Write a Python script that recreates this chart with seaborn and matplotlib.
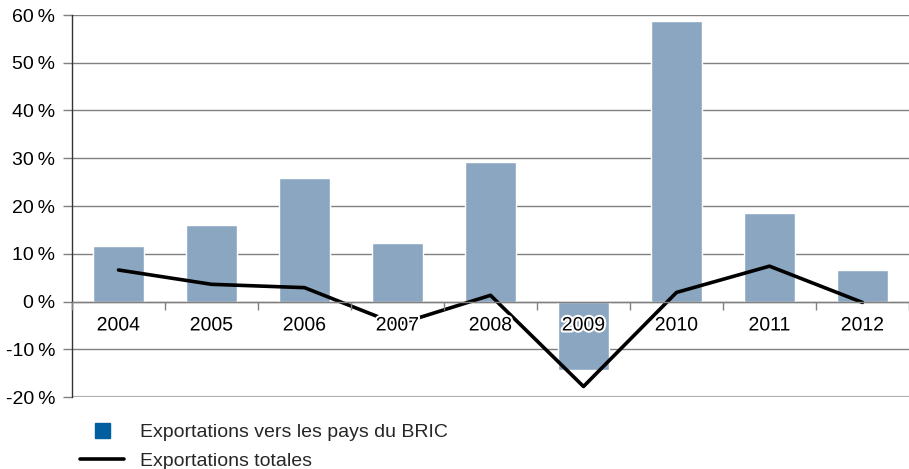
import numpy as np
import pandas as pd
import matplotlib
matplotlib.use('Agg')
import matplotlib.pyplot as plt
import matplotlib.patheffects as pe
from matplotlib.lines import Line2D
import seaborn as sns

years = ['2004', '2005', '2006', '2007', '2008', '2009', '2010', '2011', '2012']
bric = [11.6, 16.0, 25.9, 12.2, 29.2, -14.4, 58.8, 18.5, 6.6]
total = [6.6, 3.6, 2.9, -4.8, 1.3, -17.8, 1.9, 7.4, -0.2]
yticks = [-20, -10, 0, 10, 20, 30, 40, 50, 60]

bar_label = 'Exportations vers les pays du BRIC'
line_label = 'Exportations totales'

fs = 14

sns.set_style('white')
plt.rcParams['font.family'] = ['Liberation Sans', 'DejaVu Sans']
plt.rcParams['font.size'] = fs

df = pd.DataFrame({'year': years, 'bric': bric, 'total': total})
df['pos'] = np.arange(len(years))

fig = plt.figure(figsize=(9.09, 4.69), dpi=100)
ax = fig.add_axes([72 / 909, 1 - 397 / 469, 1 - 72 / 909, (397 - 15) / 469])

sns.barplot(data=df, x='pos', y='bric', color='#8ba6c1', saturation=1,
            width=0.55, ax=ax, native_scale=True, zorder=1)
sns.lineplot(data=df, x='pos', y='total', color='black', linewidth=2.6,
             ax=ax, zorder=2)

ax.set_xlim(-0.5, len(years) - 0.5)
ax.set_ylim(-20, 60)
ax.set_xlabel('')
ax.set_ylabel('')

# y axis and grid
ax.set_axisbelow(True)
ax.set_yticks(yticks)
ax.set_yticklabels([f'{v}\u2009%' for v in yticks])
ax.yaxis.grid(True, color='#808080', linewidth=1.0)
ax.get_ygridlines()[0].set_color('#b0b0b0')
ax.get_ygridlines()[0].set_linewidth(1.6)
ax.tick_params(axis='y', direction='out', length=6.5, width=1, color='#808080',
               pad=5.5, left=True, labelsize=fs, labelcolor='black')

# x axis sits on the zero line
ax.spines['bottom'].set_position(('data', 0))
ax.spines['bottom'].set_color('#808080')
ax.spines['bottom'].set_linewidth(1.0)
ax.spines['left'].set_color('#333333')
ax.spines['left'].set_linewidth(1.0)
ax.spines['top'].set_visible(False)
ax.spines['right'].set_visible(False)

ax.set_xticks(np.arange(len(years) + 1) - 0.5)
ax.set_xticklabels([])
ax.set_xticks(np.arange(len(years)), minor=True)
ax.set_xticklabels(years, minor=True)
ax.tick_params(axis='x', which='major', direction='out', length=6, width=1,
               color='#808080', bottom=True)
ax.tick_params(axis='x', which='minor', length=0, pad=11.5, labelsize=fs,
               labelcolor='black', bottom=True)
for lbl in ax.get_xticklabels(minor=True):
    lbl.set_path_effects([pe.withStroke(linewidth=3, foreground='white')])
ax.xaxis.set_zorder(4)

handles = [
    Line2D([], [], marker='s', linestyle='none', markersize=10.8,
           markerfacecolor='#005f9e', markeredgecolor='#005f9e'),
    Line2D([], [], color='black', linewidth=2.6),
]
fig.legend(handles, [bar_label, line_label], loc='upper left',
           bbox_to_anchor=(80 / 909, 1 - 423 / 469), frameon=False,
           borderpad=0, borderaxespad=0, handlelength=2.27,
           handletextpad=0.82, labelspacing=0.6, fontsize=fs)

fig.savefig('out.png', dpi=100)
